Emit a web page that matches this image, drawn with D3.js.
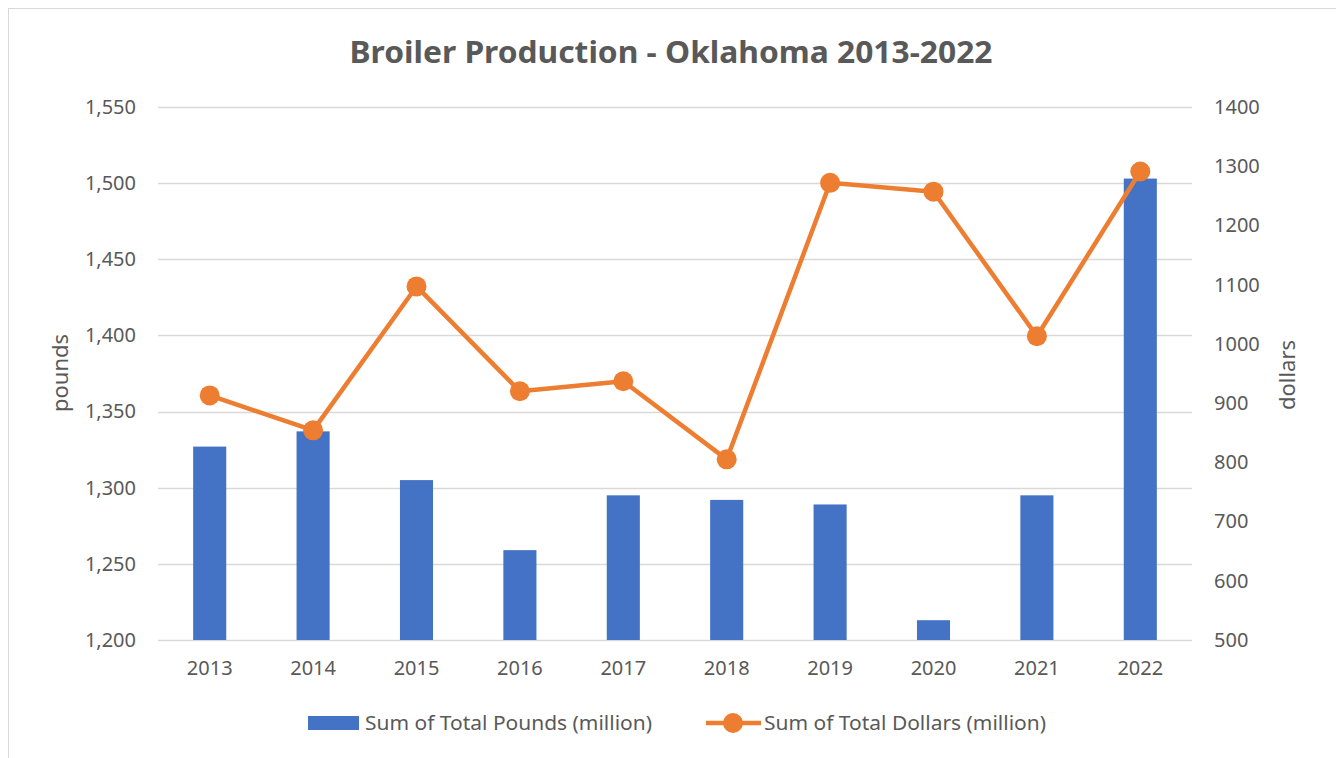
<!DOCTYPE html>
<html>
<head>
<meta charset="utf-8">
<script src="https://cdn.jsdelivr.net/npm/d3@7"></script>
<style>
  body { margin: 0; background: #fff; }
  text { font-family: "Noto Sans", "Open Sans", sans-serif; fill: #595959; }
</style>
</head>
<body>
<div id="chart"></div>
<script>
// data
var years = ["2013", "2014", "2015", "2016", "2017", "2018", "2019", "2020", "2021", "2022"];
var pounds = [1327, 1337, 1305, 1259, 1295, 1292, 1289, 1213, 1295, 1503];
var dollars = [913, 854, 1097, 920, 937, 805, 1272, 1257, 1013, 1291];
var leftTicks = [1200, 1250, 1300, 1350, 1400, 1450, 1500, 1550];
var rightTicks = [500, 600, 700, 800, 900, 1000, 1100, 1200, 1300, 1400];

var width = 1336, height = 758;
var margin = {top: 107, right: 144, bottom: 118, left: 158};

var svg = d3.select("#chart").append("svg")
    .attr("width", width)
    .attr("height", height);

// chart frame
svg.append("rect")
    .attr("x", 8.5).attr("y", 8.5)
    .attr("width", width).attr("height", height)
    .attr("fill", "none")
    .attr("stroke", "#d9d9d9");

var x = d3.scaleBand()
    .domain(years)
    .range([margin.left, width - margin.right])
    .paddingInner(0.68)
    .paddingOuter(0.34);

var yL = d3.scaleLinear().domain([1200, 1550]).range([height - margin.bottom, margin.top]);
var yR = d3.scaleLinear().domain([500, 1400]).range([height - margin.bottom, margin.top]);

// gridlines
svg.append("g")
    .selectAll("line")
    .data(leftTicks)
    .enter()
    .append("line")
    .attr("x1", margin.left)
    .attr("x2", width - margin.right)
    .attr("y1", function(d) { return Math.round(yL(d)) + 0.5; })
    .attr("y2", function(d) { return Math.round(yL(d)) + 0.5; })
    .attr("stroke", "#d9d9d9")
    .attr("stroke-width", 1.5);

// left axis
var leftAxis = svg.append("g")
    .attr("transform", "translate(" + (margin.left - 22) + ",0)")
    .call(d3.axisLeft(yL).tickValues(leftTicks).tickFormat(d3.format(",")).tickSize(0).tickPadding(0));
leftAxis.select(".domain").remove();
leftAxis.selectAll("text")
    .style("font-size", "20px")
    .style("font-family", "Noto Sans")
    .attr("fill", "#595959");

// right axis
var rightAxis = svg.append("g")
    .attr("transform", "translate(" + (width - margin.right + 22) + ",0)")
    .call(d3.axisRight(yR).tickValues(rightTicks).tickFormat(d3.format("d")).tickSize(0).tickPadding(0));
rightAxis.select(".domain").remove();
rightAxis.selectAll("text")
    .style("font-size", "20px")
    .style("font-family", "Noto Sans")
    .attr("fill", "#595959");

// x axis labels
var bottomAxis = svg.append("g")
    .attr("transform", "translate(0," + (height - margin.bottom) + ")")
    .call(d3.axisBottom(x).tickSize(0).tickPadding(21));
bottomAxis.select(".domain").remove();
bottomAxis.selectAll("text")
    .style("font-size", "20px")
    .style("font-family", "Noto Sans")
    .attr("fill", "#595959");

// bars
svg.append("g")
    .selectAll("rect")
    .data(pounds)
    .enter()
    .append("rect")
    .attr("x", function(d, i) { return x(years[i]); })
    .attr("width", x.bandwidth())
    .attr("y", function(d) { return yL(d); })
    .attr("height", function(d) { return yL(1200) - yL(d); })
    .attr("fill", "#4472c4");

// dollars line + markers
var line = d3.line()
    .x(function(d, i) { return x(years[i]) + x.bandwidth() / 2; })
    .y(function(d) { return yR(d); });

svg.append("path")
    .datum(dollars)
    .attr("d", line)
    .attr("fill", "none")
    .attr("stroke", "#ed7d31")
    .attr("stroke-width", 4.5)
    .attr("stroke-linejoin", "round");

svg.append("g")
    .selectAll("circle")
    .data(dollars)
    .enter()
    .append("circle")
    .attr("cx", function(d, i) { return x(years[i]) + x.bandwidth() / 2; })
    .attr("cy", function(d) { return yR(d); })
    .attr("r", 10)
    .attr("fill", "#ed7d31");

// title
svg.append("text")
    .attr("x", 671)
    .attr("y", 63)
    .attr("text-anchor", "middle")
    .attr("textLength", 643)
    .attr("lengthAdjust", "spacingAndGlyphs")
    .style("font-size", "31px")
    .style("font-weight", "bold")
    .text("Broiler Production - Oklahoma 2013-2022");

// axis titles
svg.append("text")
    .attr("transform", "translate(68,373) rotate(-90)")
    .attr("text-anchor", "middle")
    .style("font-size", "22px")
    .text("pounds");

svg.append("text")
    .attr("transform", "translate(1295,375) rotate(-90)")
    .attr("text-anchor", "middle")
    .style("font-size", "22px")
    .text("dollars");

// legend
var lg = svg.append("g");
lg.append("rect")
    .attr("x", 308).attr("y", 716)
    .attr("width", 51).attr("height", 14)
    .attr("fill", "#4472c4");
lg.append("text")
    .attr("x", 365).attr("y", 730)
    .attr("textLength", 287)
    .attr("lengthAdjust", "spacingAndGlyphs")
    .style("font-size", "20px")
    .text("Sum of Total Pounds (million)");

lg.append("line")
    .attr("x1", 706).attr("x2", 761)
    .attr("y1", 723).attr("y2", 723)
    .attr("stroke", "#ed7d31")
    .attr("stroke-width", 4.5);
lg.append("circle")
    .attr("cx", 733).attr("cy", 723)
    .attr("r", 10)
    .attr("fill", "#ed7d31");
lg.append("text")
    .attr("x", 764).attr("y", 730)
    .attr("textLength", 282)
    .attr("lengthAdjust", "spacingAndGlyphs")
    .style("font-size", "20px")
    .text("Sum of Total Dollars (million)");
</script>
</body>
</html>
